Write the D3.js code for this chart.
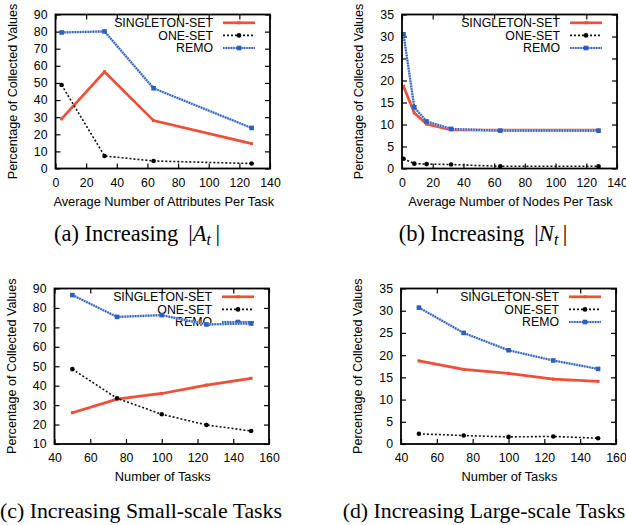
<!DOCTYPE html>
<html>
<head>
<meta charset="utf-8">
<script src="https://cdn.jsdelivr.net/npm/d3@7"></script>
<style>
  body { margin: 0; background: #fff; }
  svg text { font-family: "Liberation Sans", Arial, sans-serif; }
</style>
</head>
<body>
<div id="myChart"></div>
<script>
// series names for the legend
let seriesNames = ["SINGLETON-SET", "ONE-SET", "REMO"];

// (a) attributes per task
let attrX = [4, 32, 64, 128];
let attrSingleton = [29, 56.5, 28, 14.5];
let attrOneSet = [48.8, 7.3, 4.4, 2.9];
let attrRemo = [79.5, 80.1, 46.9, 23.7];

// (b) nodes per task
let nodesX = [1, 8, 16, 32, 64, 128];
let nodesSingleton = [18.7, 12.6, 10.1, 8.8, 8.7, 8.7];
let nodesOneSet = [2.2, 1.1, 1.0, 0.9, 0.5, 0.5];
let nodesRemo = [30.5, 13.9, 10.7, 9.0, 8.6, 8.6];

// (c) small-scale tasks
let smallX = [50, 75, 100, 125, 150];
let smallSingleton = [26.1, 33.1, 36.0, 40.3, 43.8];
let smallOneSet = [48.5, 33.5, 25.3, 19.8, 16.7];
let smallRemo = [86.6, 75.4, 76.3, 71.5, 72.0];

// (d) large-scale tasks
let largeX = [50, 75, 100, 125, 150];
let largeSingleton = [18.7, 16.8, 15.9, 14.6, 14.1];
let largeOneSet = [2.3, 1.9, 1.6, 1.7, 1.3];
let largeRemo = [30.7, 25.0, 21.1, 18.8, 16.9];

// tick values
let ticksX140 = [0, 20, 40, 60, 80, 100, 120, 140];
let ticksX160 = [40, 60, 80, 100, 120, 140, 160];
let ticksY90 = [0, 10, 20, 30, 40, 50, 60, 70, 80, 90];
let ticksY90from10 = [10, 20, 30, 40, 50, 60, 70, 80, 90];
let ticksY35 = [0, 5, 10, 15, 20, 25, 30, 35];

let red = "#ef4f38", blueDark = "#2d5fc2", blueLight = "#a3bbe8";

let svg = d3.select("#myChart")
  .append("svg")
    .attr("width", 626)
    .attr("height", 525);

function drawPanel(p) {
  let x = d3.scaleLinear().domain(p.xDomain).range([p.left, p.right]);
  let y = d3.scaleLinear().domain(p.yDomain).range([p.bottom, p.top]);
  let g = svg.append("g");

  // axes with inside ticks (gnuplot style)
  g.append("g")
    .attr("transform", "translate(0," + p.bottom + ")")
    .call(d3.axisBottom(x).tickValues(p.xTicks).tickSize(-5).tickPadding(9.5));
  g.append("g")
    .attr("transform", "translate(" + p.left + ",0)")
    .call(d3.axisLeft(y).tickValues(p.yTicks).tickSize(-5).tickPadding(8));
  g.append("g")
    .attr("transform", "translate(0," + p.top + ")")
    .call(d3.axisTop(x).tickValues(p.xTicks).tickSize(-5).tickFormat(""));
  g.append("g")
    .attr("transform", "translate(" + p.right + ",0)")
    .call(d3.axisRight(y).tickValues(p.yTicks).tickSize(-5).tickFormat(""));
  g.selectAll(".domain").remove();
  g.selectAll(".tick line").attr("stroke", "#000").attr("stroke-width", 1.2);
  g.selectAll(".tick text").attr("font-size", 12.3).attr("fill", "#000")
    .style("font-family", "'Liberation Sans', Arial, sans-serif");

  // axis titles
  g.append("text")
    .attr("x", (p.left + p.right) / 2 + 1)
    .attr("y", p.bottom + 37)
    .attr("text-anchor", "middle")
    .attr("font-size", 12.8)
    .text(p.xTitle);
  g.append("text")
    .attr("transform", "translate(" + (p.left - 39) + "," + ((p.top + p.bottom) / 2) + ") rotate(-90)")
    .attr("text-anchor", "middle")
    .attr("font-size", 12.6)
    .text("Percentage of Collected Values");

  // legend
  let legX = p.right - 57;
  seriesNames.forEach(function(name, i) {
    let ly = p.top + 8.3 + i * 12.6;
    g.append("text")
      .attr("x", legX)
      .attr("y", ly + 4.3)
      .attr("text-anchor", "end")
      .attr("font-size", 12.3)
      .text(name);
    let pts = [[legX + 10, ly], [p.right - 15, ly]];
    drawSeries(g, i, pts, [[p.right - 31, ly]]);
  });

  // data lines
  let series = [p.singleton, p.oneSet, p.remo];
  series.forEach(function(vals, i) {
    let pts = vals.map(function(v, j) { return [x(p.xs[j]), y(v)]; });
    drawSeries(g, i, pts, pts);
  });

  // frame
  g.append("rect")
    .attr("x", p.left).attr("y", p.top)
    .attr("width", p.right - p.left).attr("height", p.bottom - p.top)
    .attr("fill", "none").attr("stroke", "#000").attr("stroke-width", 1.8);

  // caption
  let cap = g.append("text")
    .attr("x", p.capX)
    .attr("y", p.capY)
    .attr("text-anchor", "middle")
    .attr("font-size", p.capSize)
    .style("font-family", "'Liberation Serif', 'Times New Roman', serif");
  cap.append("tspan").text(p.caption);
  if (p.capVar) {
    cap.append("tspan").text(" \u2009|");
    cap.append("tspan").attr("font-style", "italic").text(p.capVar);
    cap.append("tspan").attr("font-style", "italic").attr("font-size", 16).attr("dy", 4).text("t");
    cap.append("tspan").attr("dy", -4).text("\u2009|");
  }
}

function drawSeries(g, i, pts, marks) {
  let line = d3.line();
  if (i === 0) {
    g.append("path").attr("d", line(pts))
      .attr("fill", "none").attr("stroke", red).attr("stroke-width", 2.7);
    g.selectAll(null).data(marks).enter().append("rect")
      .attr("x", d => d[0] - 1.5).attr("y", d => d[1] - 1.5)
      .attr("width", 3).attr("height", 3).attr("fill", red);
  } else if (i === 1) {
    g.append("path").attr("d", line(pts))
      .attr("fill", "none").attr("stroke", "#111").attr("stroke-width", 1.6)
      .attr("stroke-dasharray", "2,2");
    g.selectAll(null).data(marks).enter().append("circle")
      .attr("cx", d => d[0]).attr("cy", d => d[1])
      .attr("r", 2.3).attr("fill", "#000");
  } else {
    g.append("path").attr("d", line(pts))
      .attr("fill", "none").attr("stroke", blueLight).attr("stroke-width", 2.2);
    g.append("path").attr("d", line(pts))
      .attr("fill", "none").attr("stroke", blueDark).attr("stroke-width", 2.2)
      .attr("stroke-dasharray", "1.3,1.3");
    g.selectAll(null).data(marks).enter().append("rect")
      .attr("x", d => d[0] - 2.3).attr("y", d => d[1] - 2.3)
      .attr("width", 4.6).attr("height", 4.6).attr("fill", blueDark);
  }
}

drawPanel({
  left: 55.5, right: 270, top: 14.5, bottom: 168.5,
  xDomain: [0, 140], yDomain: [0, 90], xTicks: ticksX140, yTicks: ticksY90,
  xs: attrX, singleton: attrSingleton, oneSet: attrOneSet, remo: attrRemo,
  xTitle: "Average Number of Attributes Per Task",
  caption: "(a) Increasing", capVar: "A", capX: 137, capY: 241, capSize: 22.5
});
drawPanel({
  left: 402, right: 617, top: 14.5, bottom: 168.5,
  xDomain: [0, 140], yDomain: [0, 35], xTicks: ticksX140, yTicks: ticksY35,
  xs: nodesX, singleton: nodesSingleton, oneSet: nodesOneSet, remo: nodesRemo,
  xTitle: "Average Number of Nodes Per Task",
  caption: "(b) Increasing", capVar: "N", capX: 483, capY: 241, capSize: 22.5
});
drawPanel({
  left: 54.5, right: 269, top: 288.5, bottom: 444,
  xDomain: [40, 160], yDomain: [10, 90], xTicks: ticksX160, yTicks: ticksY90from10,
  xs: smallX, singleton: smallSingleton, oneSet: smallOneSet, remo: smallRemo,
  xTitle: "Number of Tasks",
  caption: "(c) Increasing Small-scale Tasks", capX: 141, capY: 518, capSize: 21.8
});
drawPanel({
  left: 401, right: 616, top: 288.5, bottom: 444,
  xDomain: [40, 160], yDomain: [0, 35], xTicks: ticksX160, yTicks: ticksY35,
  xs: largeX, singleton: largeSingleton, oneSet: largeOneSet, remo: largeRemo,
  xTitle: "Number of Tasks",
  caption: "(d) Increasing Large-scale Tasks", capX: 484, capY: 518, capSize: 21.8
});
</script>
</body>
</html>
